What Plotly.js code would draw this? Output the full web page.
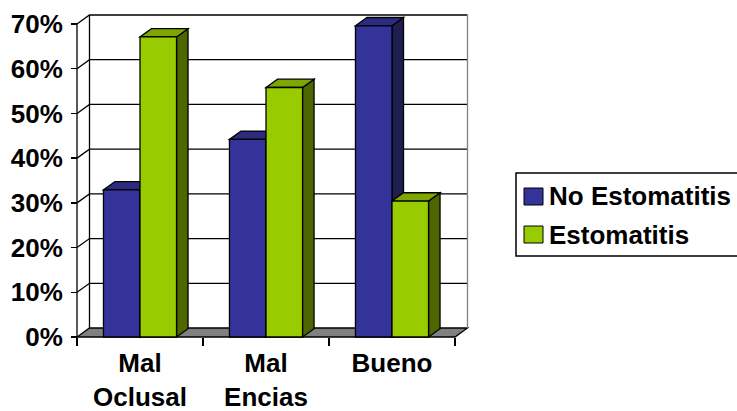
<!DOCTYPE html>
<html>
<head>
<meta charset="utf-8">
<script src="https://cdn.plot.ly/plotly-3.0.1.min.js"></script>
<style>html,body{margin:0;padding:0;background:#fff;}#chart{width:737px;height:411px;}</style>
</head>
<body>
<div id="chart"></div>
<script>
// ---- data ----
const categories = ['Mal<br>Oclusal', 'Mal<br>Encias', 'Bueno'];
const seriesNames = ['No Estomatitis', 'Estomatitis'];
const noEstomatitis = [32.9, 44.2, 69.6];
const estomatitis = [67.1, 55.8, 30.4];
const yTicks = [0, 10, 20, 30, 40, 50, 60, 70];
const yTickLabels = ['0%', '10%', '20%', '30%', '40%', '50%', '60%', '70%'];

// ---- styling / geometry ----
const W = 737, H = 411;
const FONT = 'Liberation Sans, Arial, sans-serif';
const FS = 26;
const M = {l: 74, r: 267, t: 14, b: 72};
const FRONT_L = 77, FRONT_R = 455, FRONT_B = 337, FRONT_T70 = 24;
const nCat = categories.length;
const sx = (FRONT_R - FRONT_L) / nCat;          // px per category
const sy = (FRONT_B - FRONT_T70) / 70;           // px per percent
const plotW = W - M.l - M.r, plotH = H - M.t - M.b;
const xr = [-0.5 - (FRONT_L - M.l) / sx, -0.5 - (FRONT_L - M.l) / sx + plotW / sx];
const yr = [-((H - M.b) - FRONT_B) / sy, -((H - M.b) - FRONT_B) / sy + plotH / sy];
const WD_X = 12.5 / sx, WD_Y = 9 / sy;   // wall depth
const BD_X = 11.5 / sx, BD_Y = 8.3 / sy; // bar depth
const BW = 0.29;
const LW = 1.3;
const colors = [
  {front: '#333399', top: '#2b2b80', side: '#1e1e52'},
  {front: '#99cc00', top: '#7ea600', side: '#4d6600'}
];
const x0 = -0.5, x1 = nCat - 0.5;
const catIdx = categories.map((_, i) => i);
const boundaries = categories.map((_, i) => i - 0.5).concat([nCat - 0.5]);

const shapes = [];
function P(pts) { return 'M' + pts.map(p => p[0] + ',' + p[1]).join('L') + 'Z'; }
function Popen(pts) { return 'M' + pts.map(p => p[0] + ',' + p[1]).join('L'); }

// floor
shapes.push({type: 'path', xref: 'x', yref: 'y', layer: 'below',
  path: P([[x0, 0], [x1, 0], [x1 + WD_X, WD_Y], [x0 + WD_X, WD_Y]]),
  fillcolor: '#808080', line: {color: '#000', width: LW}});
// gridlines on side + back wall
yTicks.forEach(v => {
  if (v === 0) return;
  shapes.push({type: 'path', xref: 'x', yref: 'y', layer: 'below',
    path: Popen([[x0, v], [x0 + WD_X, v + WD_Y], [x1 + WD_X, v + WD_Y]]),
    line: {color: '#000', width: LW}});
});
// back-left vertical edge
shapes.push({type: 'line', xref: 'x', yref: 'y', layer: 'below',
  x0: x0 + WD_X, x1: x0 + WD_X, y0: WD_Y, y1: 70 + WD_Y, line: {color: '#000', width: LW}});
// back-right vertical edge
shapes.push({type: 'line', xref: 'x', yref: 'y', layer: 'below',
  x0: x1 + WD_X, x1: x1 + WD_X, y0: WD_Y, y1: 70 + WD_Y, line: {color: '#808080', width: LW}});
// front value axis line
shapes.push({type: 'line', xref: 'x', yref: 'y', layer: 'below',
  x0: x0, x1: x0, y0: 0, y1: 70, line: {color: '#000', width: LW}});

// bar tops & sides
const allSeries = [noEstomatitis, estomatitis];
const offsets = [-BW, 0];
catIdx.forEach(i => {
  allSeries.forEach((vals, s) => {
    const L = i + offsets[s], R = L + BW, v = vals[i];
    shapes.push({type: 'path', xref: 'x', yref: 'y', layer: 'below',
      path: P([[R, 0], [R + BD_X, BD_Y], [R + BD_X, v + BD_Y], [R, v]]),
      fillcolor: colors[s].side, line: {color: '#000', width: LW}});
    shapes.push({type: 'path', xref: 'x', yref: 'y', layer: 'below',
      path: P([[L, v], [R, v], [R + BD_X, v + BD_Y], [L + BD_X, v + BD_Y]]),
      fillcolor: colors[s].top, line: {color: '#000', width: LW}});
  });
});

// custom legend (paper coords from pixels)
const pxX = x => (x - M.l) / plotW;
const pxY = y => ((H - M.b) - y) / plotH;
shapes.push({type: 'rect', xref: 'paper', yref: 'paper', layer: 'above',
  x0: pxX(516), x1: pxX(745), y0: pxY(256), y1: pxY(173), fillcolor: 'rgba(0,0,0,0)',
  line: {color: '#000', width: 1.5}});
const annotations = [];
[[188, 205, 196], [226, 243, 235]].forEach((r, s) => {
  shapes.push({type: 'rect', xref: 'paper', yref: 'paper', layer: 'above',
    x0: pxX(524), x1: pxX(543), y0: pxY(r[1]), y1: pxY(r[0]),
    fillcolor: colors[s].front, line: {color: '#000', width: 1}});
  annotations.push({xref: 'paper', yref: 'paper', x: pxX(547), y: pxY(r[2]),
    xanchor: 'left', yanchor: 'middle', showarrow: false, text: seriesNames[s],
    font: {family: FONT, size: FS, color: '#000', weight: 'bold'}});
});

const traces = allSeries.map((vals, s) => ({
  type: 'bar', name: seriesNames[s], x: catIdx, y: vals,
  width: BW, offset: offsets[s],
  marker: {color: colors[s].front, line: {color: '#000', width: LW}},
  showlegend: false, hoverinfo: 'y'
}));
traces.push({type: 'scatter', x: [], y: [], xaxis: 'x2', yaxis: 'y', showlegend: false, hoverinfo: 'skip'});

const tickfont = {family: FONT, size: FS, color: '#000', weight: 'bold'};
const layout = {
  width: W, height: H, margin: M,
  paper_bgcolor: '#fff', plot_bgcolor: 'rgba(0,0,0,0)',
  barmode: 'overlay', showlegend: false,
  xaxis: {range: xr, tickmode: 'array', tickvals: catIdx, ticktext: categories, ticks: '',
    showgrid: false, zeroline: false, showline: false, anchor: 'free',
    position: ((H - M.b) - FRONT_B) / plotH, tickfont: tickfont, ticklabelstandoff: 8, fixedrange: true},
  xaxis2: {overlaying: 'x', range: xr, tickmode: 'array', tickvals: boundaries, showticklabels: false,
    ticks: 'outside', ticklen: 8, tickwidth: LW, tickcolor: '#000', anchor: 'free',
    position: ((H - M.b) - FRONT_B) / plotH, showgrid: false, zeroline: false, showline: false, fixedrange: true},
  yaxis: {range: yr, tickmode: 'array', tickvals: yTicks, ticktext: yTickLabels, ticks: 'outside',
    ticklen: 6, tickwidth: LW, tickcolor: '#000', anchor: 'free', position: (FRONT_L - M.l) / plotW,
    showgrid: false, zeroline: false, showline: false, tickfont: tickfont, ticklabelstandoff: 3, fixedrange: true},
  shapes: shapes, annotations: annotations
};
Plotly.newPlot('chart', traces, layout, {displayModeBar: false, staticPlot: true});
</script>
</body>
</html>
